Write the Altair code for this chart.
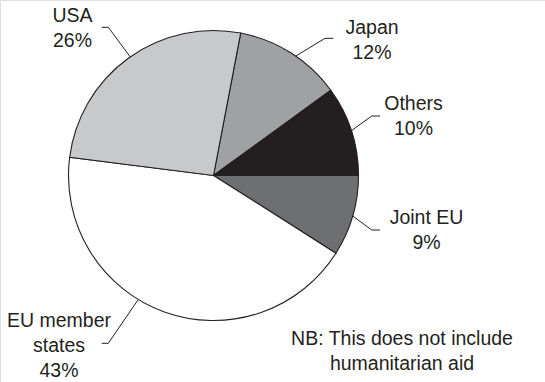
import math
import altair as alt
import pandas as pd

# ---- data ----
categories = ["Japan", "Others", "Joint EU", "EU member states", "USA"]
shares = [12, 10, 9, 43, 26]
label_lines = [["Japan"], ["Others"], ["Joint EU"], ["EU member", "states"], ["USA"]]
fills = ["#a0a1a3", "#231f20", "#6e6f71", "#ffffff", "#c8c9cb"]

# ---- layout ----
W, H = 545, 382
CX, CY, R = 213.5, 175.5, 145
START_DEG = 10.8
# anchor position inside slice (fraction), elbow point, line end, label position
layout = {
    "Japan": dict(frac=0.55, elbow=(325, 38.3), end=(333.3, 38.3), lab=(372, 33.5)),
    "Others": dict(frac=0.5, elbow=(371.7, 116), end=(380, 116), lab=(413.5, 110)),
    "Joint EU": dict(frac=0.5, elbow=(371.7, 230), end=(380, 230), lab=(426.5, 223.5)),
    "EU member states": dict(frac=0.574, elbow=(108.3, 343.3), end=(101.7, 343.3), lab=(59, 327)),
    "USA": dict(frac=0.51, elbow=(108.3, 27.3), end=(101.7, 27.3), lab=(72.5, 21.7)),
}

df = pd.DataFrame({"cat": categories, "value": shares, "order": list(range(len(categories))), "fill": fills})

total = sum(shares)
rows_line, rows_text = [], []
cum = 0
for cat, v, lines in zip(categories, shares, label_lines):
    L = layout[cat]
    a0 = START_DEG + cum / total * 360
    a1 = START_DEG + (cum + v) / total * 360
    cum += v
    ang = math.radians(a0 + (a1 - a0) * L["frac"])
    ex, ey = CX + R * math.sin(ang), CY - R * math.cos(ang)
    for i, (px, py) in enumerate([(ex, ey), L["elbow"], L["end"]]):
        rows_line.append({"cat": cat, "i": i, "x": px, "y": py})
    rows_text.append({"cat": cat, "text": lines + [f"{v}%"], "x": L["lab"][0], "y": L["lab"][1]})

lines_df = pd.DataFrame(rows_line)
text_df = pd.DataFrame(rows_text)
note_df = pd.DataFrame({"text": [["NB: This does not include", "humanitarian aid"]], "x": [402], "y": [345]})

xs = alt.Scale(domain=[0, W], range=[0, W])
ys = alt.Scale(domain=[0, H], range=[0, H])
FONT = "Liberation Sans"
FS = 19.5

pie = alt.Chart(df).mark_arc(radius=R, stroke="#231f20", strokeWidth=1.1).encode(
    theta=alt.Theta("value:Q", stack=True,
                    scale=alt.Scale(range=[math.radians(START_DEG), math.radians(START_DEG) + 2 * math.pi])),
    order=alt.Order("order:Q"),
    color=alt.Color("fill:N", scale=None),
    x=alt.value(CX),
    y=alt.value(CY),
)

leaders = alt.Chart(lines_df).mark_line(color="#231f20", strokeWidth=1).encode(
    x=alt.X("x:Q", scale=xs, axis=None),
    y=alt.Y("y:Q", scale=ys, axis=None),
    detail="cat:N",
    order="i:Q",
)

labels = alt.Chart(text_df).mark_text(
    font=FONT, fontSize=FS, color="#231f20", align="center", baseline="alphabetic", lineHeight=25
).encode(
    x=alt.X("x:Q", scale=xs, axis=None),
    y=alt.Y("y:Q", scale=ys, axis=None),
    text="text",
)

note = alt.Chart(note_df).mark_text(
    font=FONT, fontSize=FS, color="#231f20", align="center", baseline="alphabetic", lineHeight=25
).encode(
    x=alt.X("x:Q", scale=xs, axis=None),
    y=alt.Y("y:Q", scale=ys, axis=None),
    text="text",
)

chart = alt.layer(pie, leaders, labels, note).properties(
    width=W, height=H, padding=0, autosize=alt.AutoSizeParams(type="none")
).configure_view(stroke=None).configure(background="white")

chart.save("out.html", embed_options={"renderer": "svg", "actions": False})
